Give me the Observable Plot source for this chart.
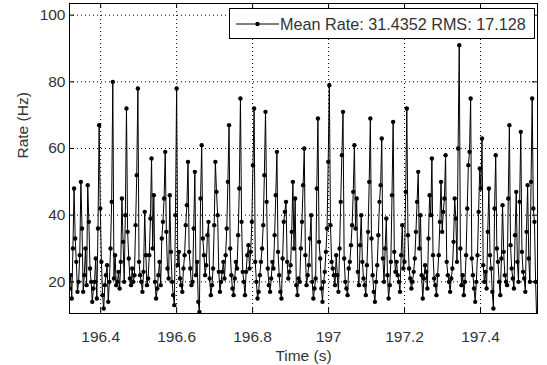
<!DOCTYPE html>
<html>
<head>
<meta charset="utf-8">
<script src="https://cdn.jsdelivr.net/npm/d3@7"></script>
<script src="https://cdn.jsdelivr.net/npm/@observablehq/plot@0.6"></script>
<style>
  html, body { margin: 0; padding: 0; background: white; }
  #wrap { position: relative; width: 547px; height: 365px; font-family: "Liberation Sans", Arial, Helvetica, sans-serif; }
  #legend { position: absolute; left: 229px; top: 8px; width: 306px; height: 31px; box-sizing: border-box;
            border: 1px solid #000; background: #fff; }
  #legend svg { position: absolute; left: 0; top: 0; }
  #legend span { position: absolute; left: 50px; top: 6px; font-size: 16.2px; line-height: 18px; color: #333; white-space: nowrap; }
</style>
</head>
<body>
<div id="wrap"><div id="chart"></div></div>
<script>
// Sampled signal (start time, sample period) and rate values (Hz)
const startTime = 196.318;
const samplePeriod = 0.003;
const rates = [
  18,22,15,30,48,33,26,17,20,28,50,36,17,22,30,19,49,38,24,20,
  14,18,20,27,15,36,67,42,26,16,12,19,22,25,14,20,30,44,80,21,
  28,19,20,23,18,26,45,32,20,40,72,35,27,21,19,24,20,22,37,52,
  78,26,22,20,17,23,41,28,19,21,28,39,57,30,46,20,15,18,22,26,
  19,33,38,45,59,35,24,21,46,29,20,16,13,40,78,25,29,21,19,17,
  24,28,37,43,56,29,24,19,20,36,53,22,26,14,11,45,61,33,28,22,
  25,34,38,21,16,19,24,37,56,47,40,23,17,20,23,26,21,28,36,50,
  67,30,22,18,16,21,26,24,34,48,75,38,23,20,16,23,28,31,24,29,
  38,55,72,26,20,15,17,22,26,30,37,52,71,44,24,19,17,21,26,24,
  34,46,59,29,22,17,15,27,38,41,44,26,21,23,25,35,50,30,45,19,
  16,21,20,30,38,49,60,28,19,22,25,33,40,20,15,18,21,48,69,32,
  27,18,14,20,23,29,36,56,79,37,26,24,22,19,28,22,17,30,44,58,
  71,27,20,18,16,24,26,31,37,47,61,36,45,23,19,31,40,26,21,19,
  16,25,35,50,69,33,22,17,14,20,25,34,44,49,63,27,20,30,39,22,
  15,19,26,46,68,29,23,26,22,20,17,28,37,24,26,47,72,34,24,21,
  18,20,23,27,35,44,53,30,40,22,15,21,25,23,18,33,46,40,57,28,
  21,19,16,22,28,38,50,35,41,45,58,26,22,20,17,21,24,32,45,39,
  26,60,91,30,19,22,16,20,28,42,55,59,75,27,22,18,14,20,28,41,
  54,48,63,25,20,23,18,35,48,28,24,17,12,42,58,30,26,20,16,27,
  43,29,22,20,19,45,67,31,24,21,18,34,47,26,20,44,65,29,23,21,
  17,35,49,27,20,50,75,42,38,20,8
];
const xTicks = [196.4, 196.6, 196.8, 197, 197.2, 197.4];
const xTickLabels = ["196.4", "196.6", "196.8", "197", "197.2", "197.4"];
const yTicks = [20, 40, 60, 80, 100];
const yTickLabels = ["20", "40", "60", "80", "100"];
const xLabel = "Time (s)";
const yLabel = "Rate (Hz)";
const legendText = "Mean Rate: 31.4352 RMS: 17.128";

const data = rates.map((r, i) => ({t: startTime + i * samplePeriod, r}));

const W = 547, H = 365, mT = 3, mB = 52, mL = 69, mR = 10;
const innerH = H - mT - mB, innerW = W - mL - mR;
const tick = 5;
const dots = "1,3";
const textColor = "#333";

const chart = Plot.plot({
  width: W, height: H,
  marginTop: mT, marginBottom: mB, marginLeft: mL, marginRight: mR,
  x: {domain: [196.318, 197.55], axis: null},
  y: {domain: [10.5, 103.5], axis: null},
  style: {fontFamily: '"Liberation Sans", Arial, Helvetica, sans-serif', fontSize: "15.5px", background: "white", overflow: "visible"},
  marks: [
    Plot.ruleX(xTicks, {x: d => d, stroke: "#000", strokeWidth: 1, strokeDasharray: dots}),
    Plot.ruleY(yTicks, {y: d => d, stroke: "#000", strokeWidth: 1, strokeDasharray: dots}),
    Plot.line(data, {x: "t", y: "r", stroke: "#000", strokeWidth: 1, clip: true}),
    Plot.dot(data, {x: "t", y: "r", r: 2.2, fill: "#000", stroke: "none", clip: true}),
    Plot.tickX(xTicks, {x: d => d, insetTop: innerH - tick, stroke: "#000"}),
    Plot.tickX(xTicks, {x: d => d, insetBottom: innerH - tick, stroke: "#000"}),
    Plot.tickY(yTicks, {y: d => d, insetRight: innerW - tick, stroke: "#000"}),
    Plot.tickY(yTicks, {y: d => d, insetLeft: innerW - tick, stroke: "#000"}),
    Plot.frame({stroke: "#000", strokeWidth: 1}),
    Plot.text(xTicks, {x: d => d, text: (d, i) => xTickLabels[i], frameAnchor: "bottom", dy: 24, lineAnchor: "middle", fill: textColor}),
    Plot.text(yTicks, {y: d => d, text: (d, i) => yTickLabels[i], frameAnchor: "left", dx: -4, textAnchor: "end", lineAnchor: "middle", fill: textColor}),
    Plot.text([xLabel], {text: d => d, frameAnchor: "bottom", dy: 43, lineAnchor: "middle", fill: textColor}),
    Plot.text([yLabel], {text: d => d, frameAnchor: "left", dx: -46, rotate: -90, lineAnchor: "middle", fill: textColor})
  ]
});
document.getElementById("chart").appendChild(chart);

// Legend box (top right, MATLAB style)
const legend = document.createElement("div");
legend.id = "legend";
const ls = d3.create("svg").attr("width", 50).attr("height", 29);
ls.append("line").attr("x1", 6).attr("x2", 49).attr("y1", 15).attr("y2", 15).attr("stroke", "#000").attr("stroke-width", 1);
ls.append("circle").attr("cx", 27.5).attr("cy", 15).attr("r", 2.2).attr("fill", "#000");
legend.appendChild(ls.node());
const span = document.createElement("span");
span.textContent = legendText;
legend.appendChild(span);
document.getElementById("wrap").appendChild(legend);
</script>
</body>
</html>
